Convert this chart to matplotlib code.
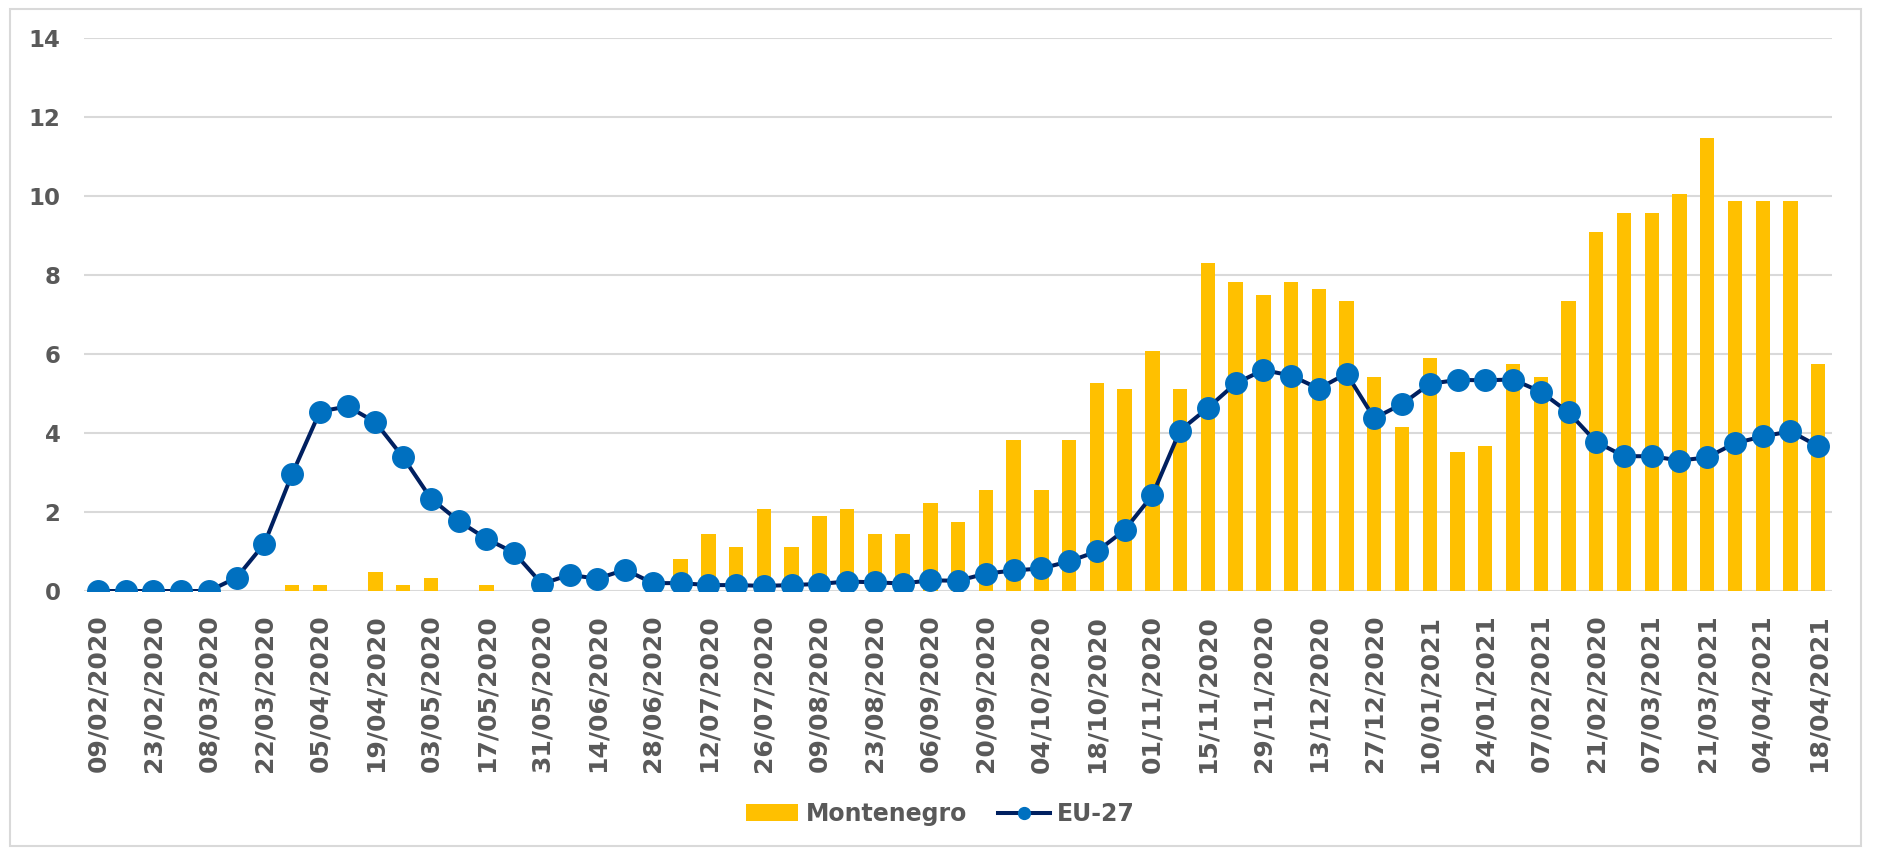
import matplotlib
matplotlib.use("Agg")
import matplotlib.pyplot as plt
from matplotlib.patches import Rectangle

# weekly values, 09/02/2020 .. 18/04/2021 (63 weeks)
montenegro = [0, 0, 0, 0, 0, 0, 0, 0.16, 0.16, 0, 0.48, 0.16, 0.32, 0, 0.16, 0,
              0, 0, 0, 0, 0, 0.80, 1.43, 1.11, 2.07, 1.11, 1.91, 2.07, 1.43, 1.43,
              2.23, 1.75, 2.55, 3.82, 2.55, 3.82, 5.25, 5.10, 6.06, 5.10, 8.29,
              7.81, 7.49, 7.81, 7.64, 7.33, 5.41, 4.14, 5.89, 3.51, 3.66, 5.73,
              5.41, 7.33, 9.07, 9.55, 9.55, 10.03, 11.47, 9.87, 9.87, 9.87, 5.73]

eu27 = [0, 0, 0, 0, 0, 0.34, 1.20, 2.96, 4.54, 4.67, 4.27, 3.38, 2.34, 1.77,
        1.32, 0.97, 0.18, 0.41, 0.31, 0.54, 0.20, 0.20, 0.15, 0.15, 0.13, 0.15,
        0.18, 0.24, 0.22, 0.19, 0.27, 0.26, 0.44, 0.52, 0.57, 0.75, 1.00, 1.54,
        2.42, 4.06, 4.63, 5.25, 5.59, 5.45, 5.12, 5.50, 4.37, 4.73, 5.24, 5.34,
        5.33, 5.35, 5.04, 4.52, 3.77, 3.41, 3.41, 3.30, 3.38, 3.74, 3.91, 4.04,
        3.66]

# every second week is labelled
tick_labels = ["09/02/2020", "23/02/2020", "08/03/2020", "22/03/2020", "05/04/2020",
               "19/04/2020", "03/05/2020", "17/05/2020", "31/05/2020", "14/06/2020",
               "28/06/2020", "12/07/2020", "26/07/2020", "09/08/2020", "23/08/2020",
               "06/09/2020", "20/09/2020", "04/10/2020", "18/10/2020", "01/11/2020",
               "15/11/2020", "29/11/2020", "13/12/2020", "27/12/2020", "10/01/2021",
               "24/01/2021", "07/02/2021", "21/02/2020", "07/03/2021", "21/03/2021",
               "04/04/2021", "18/04/2021"]

grey = "#595959"
x = list(range(len(eu27)))

fig = plt.figure(figsize=(18.81, 8.51), dpi=100)
ax = fig.add_axes([0.0447, 0.3055, 0.9293, 0.6504])

bars = ax.bar(x, montenegro, width=0.52, color="#FFC000", label="Montenegro", zorder=2)
line, = ax.plot(x, eu27, color="#002060", lw=2.9, marker="o", ms=15.5,
                mfc="#0070C0", mec="#0070C0", label="EU-27", zorder=3)

ax.set_xlim(-0.5, len(eu27) - 0.5)
ax.set_ylim(0, 14)
ax.set_yticks(range(0, 15, 2))
ax.set_xticks(x[::2])
ax.set_xticklabels(tick_labels, rotation=90)
ax.grid(axis="y", color="#D9D9D9", lw=1.5, zorder=0)
ax.set_axisbelow(True)
for s in ax.spines.values():
    s.set_visible(False)
ax.tick_params(length=0, colors=grey)
ax.tick_params(axis="x", pad=17, labelsize=18)
ax.tick_params(axis="y", pad=17, labelsize=16.5)
for t in ax.get_xticklabels() + ax.get_yticklabels():
    t.set_fontweight("bold")

fig.legend([bars, line], ["Montenegro", "EU-27"], loc="center",
           bbox_to_anchor=(0.5, 0.0435), ncol=2, frameon=False,
           prop={"size": 17, "weight": "bold"}, labelcolor=grey,
           handlelength=2.2, handletextpad=0.3, columnspacing=1.3, markerscale=0.55)

fig.patches.append(Rectangle((10 / 1881, 5 / 851), 1851 / 1881, 837 / 851,
                             transform=fig.transFigure, fill=False,
                             edgecolor="#D9D9D9", lw=1.5))

fig.savefig("out.png", dpi=100)
